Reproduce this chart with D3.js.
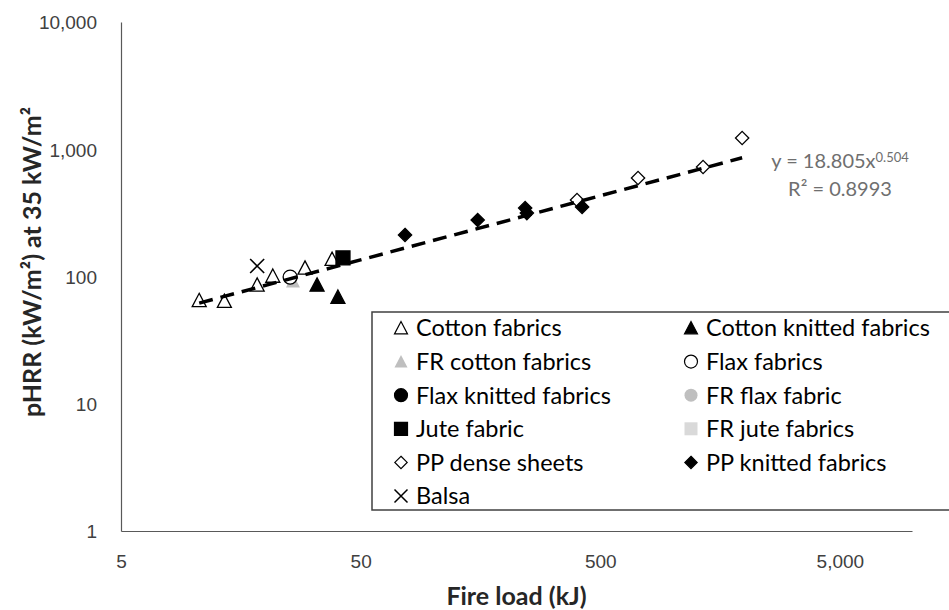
<!DOCTYPE html>
<html>
<head>
<meta charset="utf-8">
<script src="https://cdn.jsdelivr.net/npm/d3@7"></script>
<style>
  html, body { margin: 0; padding: 0; background: #fff; }
  svg { display: block; font-family: Lato, "Open Sans", sans-serif; }
</style>
</head>
<body>
<div id="chart"></div>
<script>
;(function () {
  // DATA
  const seriesNames = [
    "Cotton fabrics", "Cotton knitted fabrics",
    "FR cotton fabrics", "Flax fabrics",
    "Flax knitted fabrics", "FR flax fabric",
    "Jute fabric", "FR jute fabrics",
    "PP dense sheets", "PP knitted fabrics",
    "Balsa"
  ]
  const cottonX = [10.6, 13.5, 18.5, 21.5, 29.3, 38]
  const cottonY = [65, 64, 86, 101, 117, 137]
  const cottonKnitX = [32.9, 40.2]
  const cottonKnitY = [86, 69]
  const frCottonX = [26.1]
  const frCottonY = [92]
  const flaxX = [25.4]
  const flaxY = [99]
  const flaxKnitX = []
  const flaxKnitY = []
  const frFlaxX = []
  const frFlaxY = []
  const juteX = [42.2]
  const juteY = [140]
  const frJuteX = []
  const frJuteY = []
  const ppDenseX = [400, 719, 1343, 1955]
  const ppDenseY = [399, 594, 725, 1225]
  const ppKnitX = [76.6, 154, 243, 247, 420]
  const ppKnitY = [212, 278, 345, 315, 352]
  const balsaX = [18.5]
  const balsaY = [121]

  const xTicks = [5, 50, 500, 5000]
  const yTicks = [1, 10, 100, 1000, 10000]

  // power trendline y = a * x^b
  const trendA = 18.805
  const trendB = 0.504
  const trendR2 = "0.8993"

  const width = 949
  const height = 610
  const margin = { top: 22, right: 37, bottom: 79, left: 121 }

  // marker style per series: shape, fill, stroke
  const markerStyle = [
    { shape: "triangle", fill: "#fff", stroke: "#000" },
    { shape: "triangle", fill: "#000", stroke: "#000" },
    { shape: "triangle", fill: "#bfbfbf", stroke: "none" },
    { shape: "circle", fill: "#fff", stroke: "#000" },
    { shape: "circle", fill: "#000", stroke: "#000" },
    { shape: "circle", fill: "#bfbfbf", stroke: "none" },
    { shape: "square", fill: "#000", stroke: "#000" },
    { shape: "square", fill: "#d9d9d9", stroke: "none" },
    { shape: "diamond", fill: "#fff", stroke: "#000" },
    { shape: "diamond", fill: "#000", stroke: "#000" },
    { shape: "cross", fill: "none", stroke: "#000" }
  ]

  const seriesX = [cottonX, cottonKnitX, frCottonX, flaxX, flaxKnitX, frFlaxX, juteX, frJuteX, ppDenseX, ppKnitX, balsaX]
  const seriesY = [cottonY, cottonKnitY, frCottonY, flaxY, flaxKnitY, frFlaxY, juteY, frJuteY, ppDenseY, ppKnitY, balsaY]

  const series = seriesNames.map((name, i) => ({
    name: name,
    style: markerStyle[i],
    points: seriesX[i].map((x, j) => ({ x: x, y: seriesY[i][j] }))
  }))

  function markerPath(shape, cx, cy, s) {
    const h = s / 2
    if (shape === "triangle") {
      return `M${cx},${cy - h}L${cx + h},${cy + h * 0.9}L${cx - h},${cy + h * 0.9}Z`
    }
    if (shape === "square") {
      return `M${cx - h},${cy - h}h${s}v${s}h${-s}Z`
    }
    if (shape === "diamond") {
      const d = h * 0.95
      return `M${cx},${cy - d}L${cx + d},${cy}L${cx},${cy + d}L${cx - d},${cy}Z`
    }
    if (shape === "cross") {
      return `M${cx - h},${cy - h}L${cx + h},${cy + h}M${cx + h},${cy - h}L${cx - h},${cy + h}`
    }
    // circle
    return `M${cx - h},${cy}a${h},${h} 0 1,0 ${s},0a${h},${h} 0 1,0 ${-s},0Z`
  }

  const svg = d3
    .select("#chart")
    .append("svg")
    .attr("width", width)
    .attr("height", height)

  // Scales
  const xScale = d3
    .scaleLog()
    .domain([5, 10000])
    .range([margin.left, width - margin.right])

  const yScale = d3
    .scaleLog()
    .domain([1, 10000])
    .range([height - margin.bottom, margin.top])

  const fmt = d3.format(",")

  // Y Axis
  const yAxis = svg
    .append("g")
    .attr("transform", `translate(${margin.left},0)`)
    .call(d3.axisLeft(yScale).tickValues(yTicks).tickFormat(fmt).tickSize(0).tickPadding(24))
  yAxis.select(".domain").attr("stroke", "#595959").attr("stroke-width", 1.2)
  yAxis.selectAll("text")
    .attr("fill", "#404040")
    .style("font-size", "19px")
    .attr("dy", "0.36em")

  // X Axis
  const xAxis = svg
    .append("g")
    .attr("transform", `translate(0,${height - margin.bottom})`)
    .call(d3.axisBottom(xScale).tickValues(xTicks).tickFormat(fmt).tickSize(0).tickPadding(24))
  xAxis.select(".domain").attr("stroke", "#595959").attr("stroke-width", 1.2)
  xAxis.selectAll("text")
    .attr("fill", "#404040")
    .style("font-size", "19px")

  // Axis titles
  svg
    .append("text")
    .attr("x", (margin.left + width - margin.right) / 2)
    .attr("y", 605)
    .attr("text-anchor", "middle")
    .attr("fill", "#262626")
    .style("font-size", "25px")
    .style("font-weight", "bold")
    .text("Fire load (kJ)")

  svg
    .append("text")
    .attr("transform", "translate(41,262) rotate(-90)")
    .attr("text-anchor", "middle")
    .attr("fill", "#262626")
    .style("font-size", "25px")
    .style("font-weight", "bold")
    .text("pHRR (kW/m²) at 35 kW/m²")

  // Markers
  const groups = svg
    .selectAll(".series")
    .data(series)
    .join("g")
    .attr("class", "series")

  groups
    .selectAll("path")
    .data(d => d.points.map(p => Object.assign({ style: d.style }, p)))
    .join("path")
    .attr("d", d => markerPath(d.style.shape, xScale(d.x), yScale(d.y), 14))
    .attr("fill", d => d.style.fill)
    .attr("stroke", d => d.style.stroke)
    .attr("stroke-width", d => d.style.shape === "cross" ? 1.6 : 1.3)

  // Trendline over all points
  const allX = seriesX.flat()
  const xMin = d3.min(allX)
  const xMax = d3.max(allX)
  const trend = [xMin, xMax].map(x => ({ x: x, y: trendA * Math.pow(x, trendB) }))

  svg
    .append("path")
    .datum(trend)
    .attr("d", d3.line().x(d => xScale(d.x)).y(d => yScale(d.y)))
    .attr("fill", "none")
    .attr("stroke", "#000")
    .attr("stroke-width", 3.5)
    .attr("stroke-dasharray", "14,8")

  // Trendline label
  const eq = svg
    .append("text")
    .attr("x", 840)
    .attr("y", 168)
    .attr("text-anchor", "middle")
    .attr("fill", "#6f6f6f")
    .style("font-size", "20px")
  eq.append("tspan").text(`y = ${trendA}x`)
  eq.append("tspan").attr("dy", "-0.45em").style("font-size", "13px").text(trendB)

  svg
    .append("text")
    .attr("x", 840)
    .attr("y", 196)
    .attr("text-anchor", "middle")
    .attr("fill", "#6f6f6f")
    .style("font-size", "20px")
    .text(`R² = ${trendR2}`)

  // Legend
  const legend = svg.append("g")
  legend
    .append("rect")
    .attr("x", 372)
    .attr("y", 312)
    .attr("width", 600)
    .attr("height", 198)
    .attr("fill", "#fff")
    .attr("stroke", "#404040")
    .attr("stroke-width", 1.5)

  const colX = [401, 691]
  const rowY0 = 328
  const rowStep = 33.6

  const items = legend
    .selectAll(".item")
    .data(series)
    .join("g")
    .attr("class", "item")
    .attr("transform", (d, i) => `translate(${colX[i % 2]},${rowY0 + Math.floor(i / 2) * rowStep})`)

  items
    .append("path")
    .attr("d", d => markerPath(d.style.shape, 0, 0, 13))
    .attr("fill", d => d.style.fill)
    .attr("stroke", d => d.style.stroke)
    .attr("stroke-width", d => d.style.shape === "cross" ? 1.5 : 1.2)

  items
    .append("text")
    .attr("x", 15)
    .attr("dy", "0.36em")
    .attr("fill", "#000")
    .style("font-size", "23.5px")
    .text(d => d.name)
})()
</script>
</body>
</html>
